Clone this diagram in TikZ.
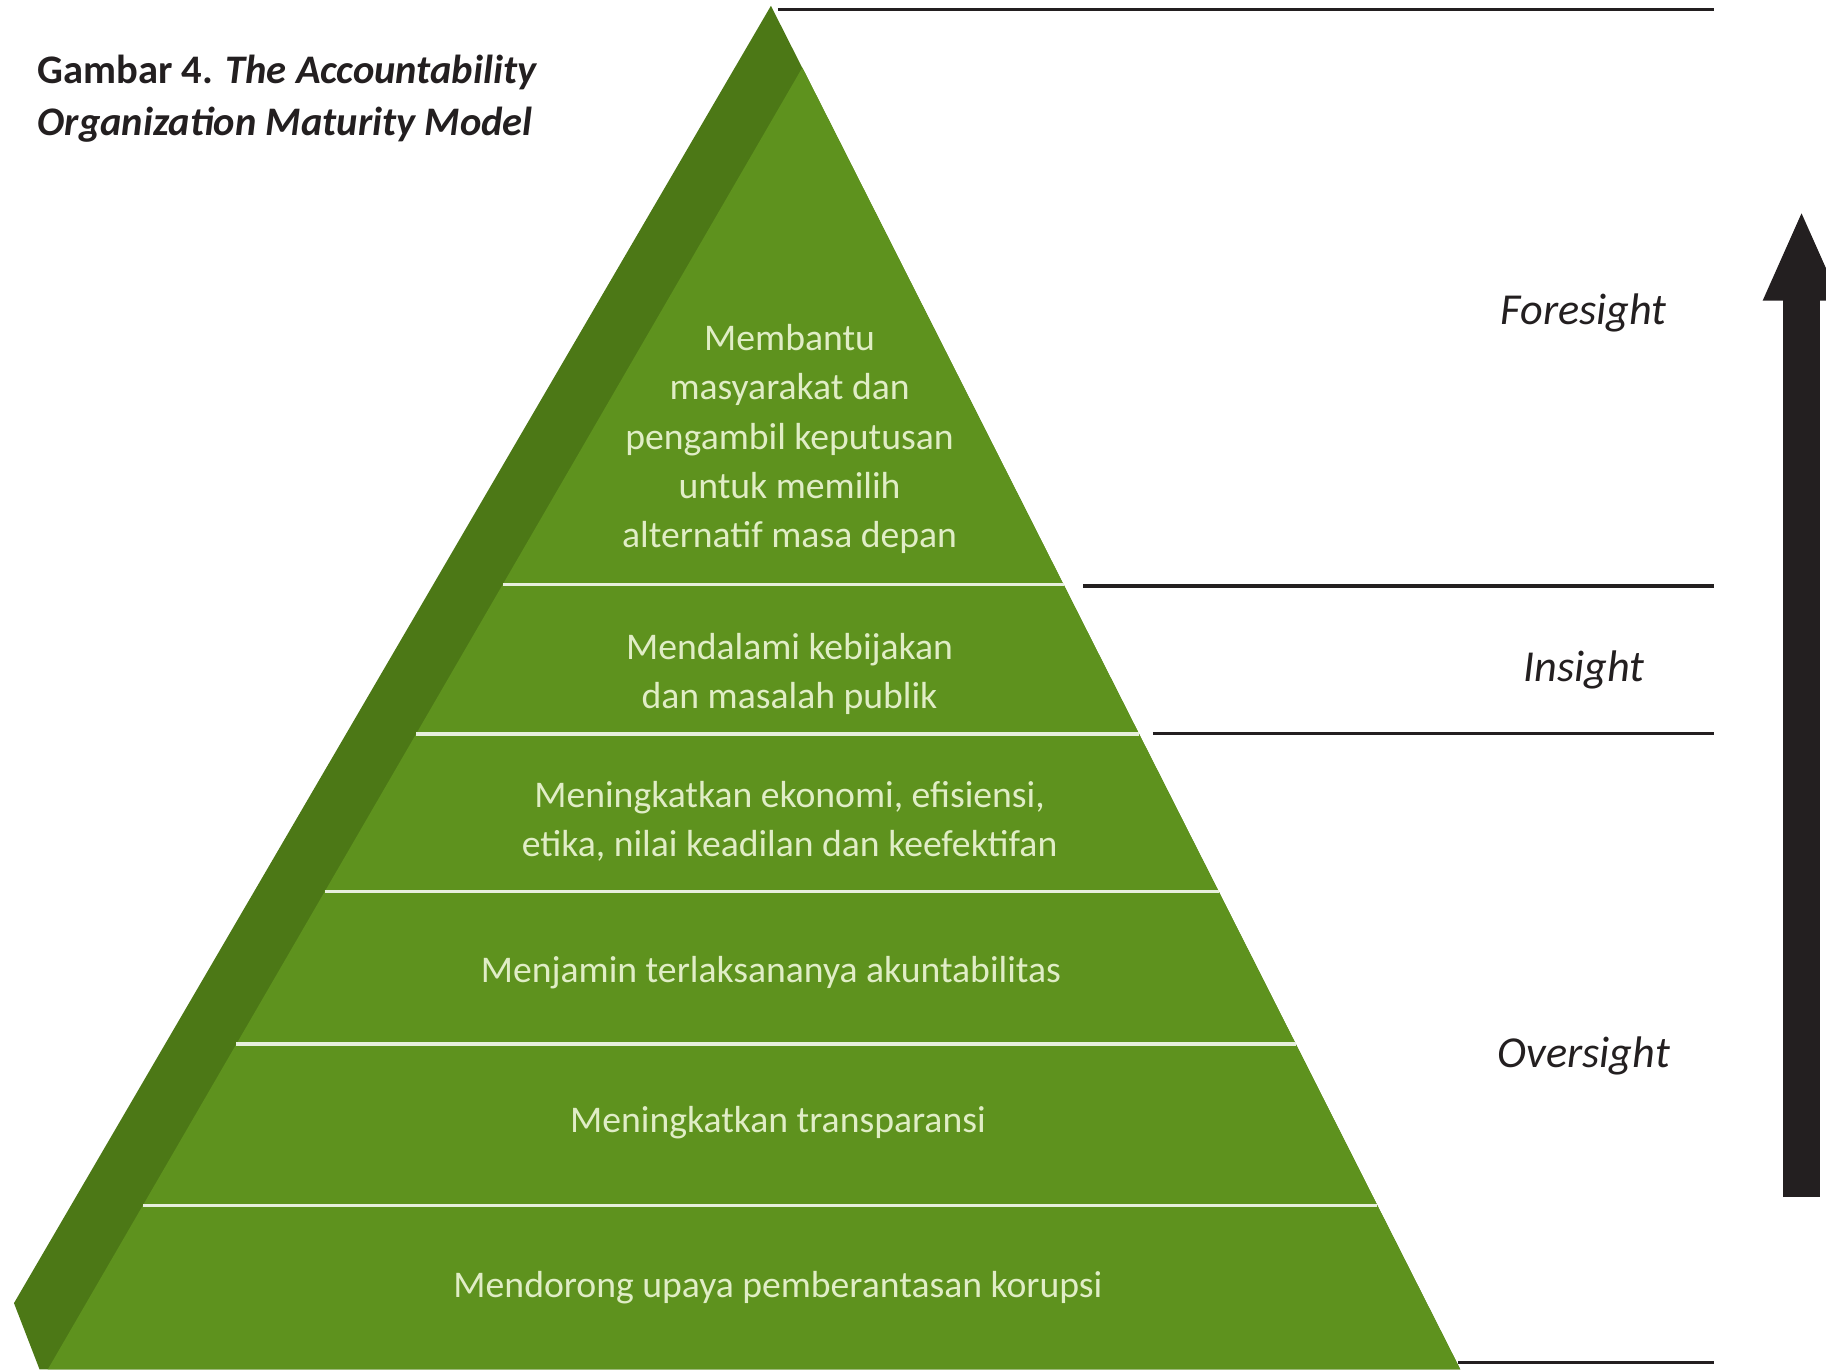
\documentclass[tikz,border=0pt]{standalone}
\usepackage{fontspec}
\setmainfont{Carlito}
\usetikzlibrary{calc, arrows.meta}
\definecolor{leaf}{RGB}{94,146,30}
\definecolor{leafdark}{RGB}{76,120,22}
\definecolor{leaftext}{RGB}{224,237,198}
\definecolor{ink}{RGB}{35,31,32}

\begin{document}
\begin{tikzpicture}[x=0.01cm,y=-0.01cm,
  band/.style={text=leaftext,align=center,font=\fontsize{9.2}{12}\selectfont},
  level/.style={text=ink,font=\fontsize{10.8}{13}\selectfont\itshape},
  rule/.style={ink,line width=0.03cm}]
  \useasboundingbox (0,0) rectangle (1568,1176);
  \coordinate (top) at (662,5);
  \coordinate (apex) at (689,58);
  \coordinate (bl) at (41,1176);
  \coordinate (br) at (1254,1176);
  \fill[leafdark] (top) -- (br) -- (34,1176) -- (12,1119) -- cycle;
  \fill[leaf] (apex) -- (br) -- (bl) -- cycle;
  \foreach \t in {0.397,0.512,0.633,0.750,0.874}{
    \draw[white!85!leaf,line width=0.03cm] ($(apex)!\t!(bl)$) -- ($(apex)!\t!(br)$);
  }
  \node[band] (foresee) at (678,377) {Membantu\\masyarakat dan\\pengambil keputusan\\untuk memilih\\alternatif masa depan};
  \node[band] (deepen) at (678,579) {Mendalami kebijakan\\dan masalah publik};
  \node[band] (economy) at (678,705) {Meningkatkan ekonomi, efisiensi,\\etika, nilai keadilan dan keefektifan};
  \node[band] (ensure) at (662,835) {Menjamin terlaksananya akuntabilitas};
  \node[band] (open) at (668,964) {Meningkatkan transparansi};
  \node[band] (fight) at (668,1106) {Mendorong upaya pemberantasan korupsi};

  \draw[rule] (668,8) -- (1472,8);
  \draw[rule] (930,503) -- (1472,503);
  \draw[rule] (990,630) -- (1472,630);
  \draw[rule] (1252,1170) -- (1472,1170);
  \node[level] (fore) at (1360,269) {Foresight};
  \node[level] (in) at (1360,575) {Insight};
  \node[level] (over) at (1360,907) {Oversight};

  \coordinate (low) at (1547,1028);
  \coordinate (high) at (1547,180);
  \draw[ink,line width=0.32cm,-{Triangle[width=0.6cm,length=0.78cm]}] (low) -- (high);

  \node[anchor=base west,align=left,text=ink,font=\fontsize{9.9}{12.5}\selectfont\bfseries] (title) at (20,116)
    {Gambar 4. \textit{The Accountability}\\\textit{Organization Maturity Model}};
\end{tikzpicture}
\end{document}
